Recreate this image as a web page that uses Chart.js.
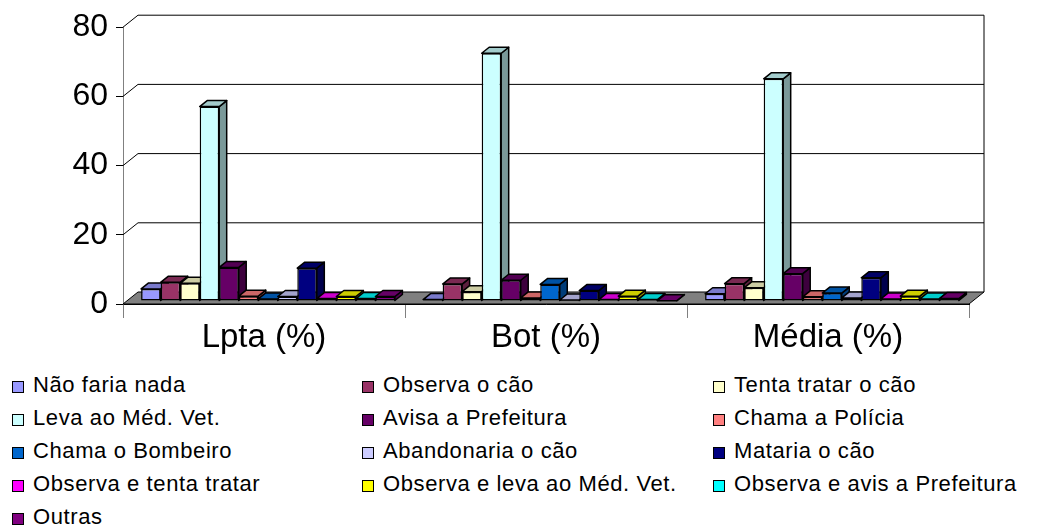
<!DOCTYPE html>
<html>
<head>
<meta charset="utf-8">
<script src="https://cdn.jsdelivr.net/npm/chart.js@4.4.0/dist/chart.umd.min.js"></script>
<style>
  body { margin: 0; background: #fff; font-family: "Liberation Sans", Arial, sans-serif; }
  #wrap { position: relative; width: 1039px; height: 370px; }
  #legend { position: relative; width: 1039px; height: 158px; }
  .item { position: absolute; display: flex; align-items: center; font-size: 22px; letter-spacing: 0.6px; color: #000; white-space: nowrap; height: 26px; }
  .box { width: 10px; height: 10px; border: 1px solid #000; margin-right: 9px; flex: none; position: relative; top: 2px; }
</style>
</head>
<body>
<div id="wrap"><canvas id="chart"></canvas></div>
<div id="legend"></div>
<script>
const categories = ["Lpta (%)", "Bot (%)", "Média (%)"];

const naoFariaNada      = [3.5, 0.4, 2.1];
const observaOCao       = [5.4, 4.9, 5.0];
const tentaTratar       = [5.1, 2.7, 3.8];
const levaAoMedVet      = [56.2, 71.6, 64.2];
const avisaPrefeitura   = [9.7, 6.0, 7.9];
const chamaPolicia      = [1.4, 0.9, 1.2];
const chamaBombeiro     = [0.6, 4.8, 2.3];
const abandonaria       = [1.3, 0.3, 0.9];
const matariaOCao       = [9.5, 3.0, 6.7];
const observaTentaTratar = [0.7, 0.4, 0.6];
const observaLeva       = [1.3, 1.4, 1.4];
const observaAvisa      = [0.7, 0.4, 0.6];
const outras            = [1.3, 0.1, 0.7];

const seriesNames = [
  "Não faria nada", "Observa o cão", "Tenta tratar o cão",
  "Leva ao Méd. Vet.", "Avisa a Prefeitura", "Chama a Polícia",
  "Chama o Bombeiro", "Abandonaria o cão", "Mataria o cão",
  "Observa e tenta tratar", "Observa e leva ao Méd. Vet.", "Observa e avis a Prefeitura",
  "Outras"
];
const seriesValues = [
  naoFariaNada, observaOCao, tentaTratar, levaAoMedVet, avisaPrefeitura,
  chamaPolicia, chamaBombeiro, abandonaria, matariaOCao, observaTentaTratar,
  observaLeva, observaAvisa, outras
];
const seriesColors = [
  "#9999FF", "#993366", "#FFFFCC", "#CCFFFF", "#660066", "#FF8080", "#0066CC",
  "#CCCCFF", "#000080", "#FF00FF", "#FFFF00", "#00FFFF", "#800080"
];

const FONT = "'Liberation Sans', Arial, sans-serif";
const WALL_DX = 15, WALL_DY = 12;   // depth of the 3d box
const BAR_DX = 7.5, BAR_DY = 6;     // depth of each column
const SHIFT_X = 4, SHIFT_Y = 3;     // columns sit in the middle of the floor

function shade(hex, f) {
  const n = parseInt(hex.slice(1), 16);
  const r = Math.round(((n >> 16) & 255) * f);
  const g = Math.round(((n >> 8) & 255) * f);
  const b = Math.round((n & 255) * f);
  return `rgb(${r},${g},${b})`;
}

function poly(ctx, pts, fill) {
  ctx.beginPath();
  ctx.moveTo(pts[0][0], pts[0][1]);
  for (let k = 1; k < pts.length; k++) ctx.lineTo(pts[k][0], pts[k][1]);
  ctx.closePath();
  if (fill) { ctx.fillStyle = fill; ctx.fill(); }
  ctx.stroke();
}

const depth3d = {
  id: "depth3d",
  beforeDatasetsDraw(chart) {
    const { ctx, chartArea: a, scales: { y } } = chart;
    const floorY = y.getPixelForValue(0);
    ctx.save();
    ctx.strokeStyle = "#000";
    ctx.lineWidth = 1;

    // back wall gridlines
    y.ticks.forEach(t => {
      if (t.value === 0) return;
      const py = y.getPixelForValue(t.value);
      ctx.beginPath();
      ctx.moveTo(a.left, py);
      ctx.lineTo(a.left + WALL_DX, py - WALL_DY);
      ctx.lineTo(a.right + WALL_DX, py - WALL_DY);
      ctx.stroke();
    });
    ctx.beginPath();
    ctx.moveTo(a.right + WALL_DX, y.getPixelForValue(y.max) - WALL_DY);
    ctx.lineTo(a.right + WALL_DX, floorY - WALL_DY);
    ctx.stroke();

    // floor
    poly(ctx, [
      [a.left, floorY], [a.left + WALL_DX, floorY - WALL_DY],
      [a.right + WALL_DX, floorY - WALL_DY], [a.right, floorY]
    ], "#808080");

    // side and top faces of the columns
    ctx.translate(SHIFT_X, -SHIFT_Y);
    ctx.lineWidth = 1.5;
    ctx.lineJoin = "round";
    chart.data.datasets.forEach((ds, i) => {
      const meta = chart.getDatasetMeta(i);
      meta.data.forEach(bar => {
        const p = bar.getProps(["x", "y", "base", "width"], true);
        const l = p.x - p.width / 2, r = p.x + p.width / 2;
        const top = p.y, bot = p.base;
        poly(ctx, [[r, top], [r + BAR_DX, top - BAR_DY], [r + BAR_DX, bot - BAR_DY], [r, bot]],
          shade(ds.backgroundColor, 0.6));
        poly(ctx, [[l, top], [l + BAR_DX, top - BAR_DY], [r + BAR_DX, top - BAR_DY], [r, top]],
          shade(ds.backgroundColor, 0.8));
      });
    });
    ctx.restore();

    ctx.save();
    ctx.translate(SHIFT_X, -SHIFT_Y);
  },
  afterDatasetsDraw(chart) {
    chart.ctx.restore();
  }
};

const chart = new Chart(document.getElementById("chart"), {
  type: "bar",
  data: {
    labels: categories,
    datasets: seriesNames.map((name, i) => ({
      label: name,
      data: seriesValues[i],
      backgroundColor: seriesColors[i],
      borderColor: "#000",
      borderWidth: 1.5,
      borderSkipped: false,
      categoryPercentage: 0.9,
      barPercentage: 1,
      clip: false
    }))
  },
  options: {
    responsive: true,
    maintainAspectRatio: false,
    animation: false,
    layout: { padding: { top: 24, right: 70, left: 0, bottom: 0 } },
    plugins: { legend: { display: false }, tooltip: { enabled: false } },
    scales: {
      x: {
        grid: { drawOnChartArea: false, drawTicks: true, tickLength: 14, offset: true, color: "#808080" },
        border: { display: true, color: "#000" },
        ticks: { color: "#000", font: { size: 33, family: FONT }, padding: 0, maxRotation: 0 },
        afterFit: s => { s.height = 66; }
      },
      y: {
        min: 0,
        max: 80,
        ticks: { stepSize: 20, color: "#000", font: { size: 32, family: FONT }, padding: 8 },
        grid: { drawOnChartArea: false, drawTicks: true, tickLength: 7, color: "#000" },
        border: { display: true, color: "#808080" },
        afterFit: s => { s.width = 123; }
      }
    }
  },
  plugins: [depth3d]
});

// legend in three columns, like the original
const legendEl = document.getElementById("legend");
const colLeft = [12, 362, 713];
chart.data.datasets.forEach((ds, i) => {
  const item = document.createElement("div");
  item.className = "item";
  item.style.left = colLeft[i % 3] + "px";
  item.style.top = (2 + Math.floor(i / 3) * 33) + "px";
  const box = document.createElement("span");
  box.className = "box";
  box.style.background = ds.backgroundColor;
  const txt = document.createElement("span");
  txt.textContent = ds.label;
  item.appendChild(box);
  item.appendChild(txt);
  legendEl.appendChild(item);
});
</script>
</body>
</html>
